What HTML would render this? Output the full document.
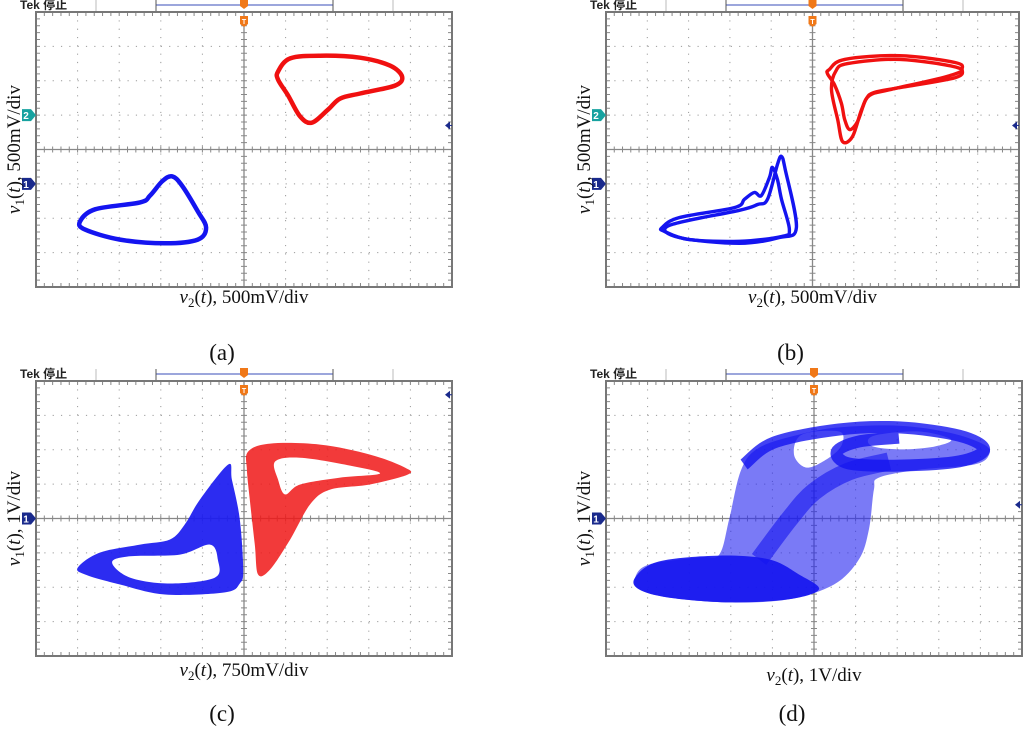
<!DOCTYPE html>
<html><head><meta charset="utf-8"><style>
html,body{margin:0;padding:0;background:#fff;}
svg{display:block;}
text{font-family:"Liberation Serif","Noto Serif CJK SC",serif;}
text.sans{font-family:"Liberation Sans","Noto Sans CJK SC",sans-serif;}
</style></head><body>
<svg id="fig" width="1024" height="735" viewBox="0 0 1024 735" xmlns="http://www.w3.org/2000/svg"></svg>
<script>
// ---- data (units: screen divisions, x: -5..5, y: -4..4) ----
const aRedX=[0.82,1.11,1.83,2.79,3.51,3.80,3.63,2.79,2.31,2.02,1.63,1.35,1.06,0.82];
const aRedY=[2.27,2.65,2.73,2.67,2.44,2.12,1.86,1.63,1.48,1.16,0.78,0.96,1.57,2.03];
const aBlueX=[-3.94,-3.58,-2.50,-2.26,-1.97,-1.73,-1.49,-1.11,-0.91,-1.11,-1.90,-2.98,-3.82];
const aBlueY=[-2.09,-1.74,-1.54,-1.34,-0.93,-0.78,-1.05,-1.80,-2.27,-2.62,-2.73,-2.62,-2.33];

const bRed1X=[0.41,0.78,2.11,3.45,3.62,3.45,2.11,1.50,1.29,1.09,0.90,0.78,0.70,0.53,0.36];
const bRed1Y=[2.33,2.62,2.73,2.53,2.33,2.09,1.80,1.66,1.45,0.81,0.58,0.87,1.34,1.89,2.21];
const bRed2X=[0.56,0.85,2.11,3.52,3.33,1.87,1.38,1.19,0.97,0.73,0.61,0.46];
const bRed2Y=[2.27,2.50,2.62,2.38,2.15,1.74,1.57,1.16,0.38,0.23,0.87,1.74];
const bBlue1X=[-3.64,-3.23,-1.89,-1.65,-1.41,-1.24,-1.04,-0.97,-0.85,-0.75,-0.56,-0.75,-1.77,-2.99,-3.59];
const bBlue1Y=[-2.27,-1.98,-1.69,-1.45,-1.25,-1.34,-0.81,-0.52,-0.87,-1.45,-2.33,-2.53,-2.67,-2.62,-2.38];
const bBlue2X=[-3.47,-1.77,-1.33,-1.09,-0.85,-0.75,-0.66,-0.39,-0.80,-1.77,-3.23];
const bBlue2Y=[-2.21,-1.77,-1.60,-1.45,-0.44,-0.20,-0.58,-2.27,-2.56,-2.73,-2.56];

const cBlueOutX=[-3.99,-3.46,-2.50,-1.78,-1.42,-1.06,-0.38,-0.29,-0.10,-0.02,-0.10,-0.46,-1.90,-2.98,-3.82];
const cBlueOutY=[-1.42,-0.99,-0.76,-0.61,-0.17,0.55,1.57,1.13,-0.03,-1.48,-1.89,-2.15,-2.21,-1.92,-1.63];
const cBlueInX=[-3.17,-2.74,-1.54,-0.82,-0.63,-0.70,-1.78,-2.74];
const cBlueInY=[-1.28,-1.10,-1.05,-0.76,-1.19,-1.72,-1.89,-1.72];
const cRedOutX=[0.10,0.63,1.83,3.03,3.87,3.94,3.03,2.07,1.59,1.11,0.63,0.34,0.26,0.14,0.07];
const cRedOutY=[1.95,2.18,2.15,1.86,1.48,1.28,0.99,0.84,0.41,-0.61,-1.48,-1.63,-0.76,0.55,1.42];
const cRedInX=[0.75,1.35,2.55,3.27,2.31,1.35,0.99,0.82];
const cRedInY=[1.66,1.77,1.54,1.31,1.19,0.99,0.70,1.13];

const dOutX=[-4.30,-3.97,-2.76,-2.28,-2.04,-1.75,-1.32,-0.36,0.60,2.04,3.25,4.09,4.21,3.85,2.52,1.56,1.44,1.32,1.08,0.48,-0.60,-2.04,-3.49,-4.21];
const dOutY=[-1.72,-1.34,-1.13,-1.05,-0.03,1.42,2.06,2.44,2.65,2.70,2.50,2.15,1.86,1.57,1.42,1.19,0.84,-0.32,-1.19,-1.92,-2.35,-2.44,-2.30,-2.06];
const dGapX=[-0.29,0.60,0.67,0.36,-0.17,-0.48];
const dGapY=[2.44,2.53,2.15,1.77,1.48,1.86];
const dHoleX=[1.44,2.52,3.29,2.88,2.04,1.37];
const dHoleY=[2.41,2.53,2.30,2.09,2.01,2.12];
const dLobeX=[-4.30,-3.73,-2.28,-1.08,-0.36,0.12,-0.60,-2.04,-3.49,-4.21];
const dLobeY=[-1.72,-1.25,-1.08,-1.19,-1.63,-2.06,-2.35,-2.44,-2.30,-2.06];
const dTopX=[-1.68,-0.96,0.60,2.04,3.49,4.09,3.49,2.04,0.84,0.55,1.08,2.04];
const dTopY=[1.57,2.21,2.59,2.65,2.41,2.01,1.66,1.54,1.60,1.95,2.24,2.35];
const dDiagX=[-1.32,-0.60,0,0.84,1.80];
const dDiagY=[-1.19,-0.03,0.78,1.37,1.66];

const NS="http://www.w3.org/2000/svg";
const svg=document.getElementById('fig');
function mk(tag,attrs,parent){const e=document.createElementNS(NS,tag);for(const k in attrs)e.setAttribute(k,attrs[k]);(parent||svg).appendChild(e);return e;}

function smooth(pts,closed){
  const n=pts.length;let d='M'+pts[0][0].toFixed(1)+','+pts[0][1].toFixed(1);
  const cnt=closed?n:n-1;
  for(let i=0;i<cnt;i++){
    const p0=pts[(i-1+n)%n],p1=pts[i],p2=pts[(i+1)%n],p3=pts[(i+2)%n];
    const q0=(!closed&&i===0)?p1:p0, q3=(!closed&&i+2>=n)?p2:p3;
    const c1=[p1[0]+(p2[0]-q0[0])/6,p1[1]+(p2[1]-q0[1])/6];
    const c2=[p2[0]-(q3[0]-p1[0])/6,p2[1]-(q3[1]-p1[1])/6];
    d+='C'+c1[0].toFixed(1)+','+c1[1].toFixed(1)+' '+c2[0].toFixed(1)+','+c2[1].toFixed(1)+' '+p2[0].toFixed(1)+','+p2[1].toFixed(1);
  }
  return d+(closed?'Z':'');
}

function makePanel(id,L,R,T,B,opt){
  const g=mk('g',{});
  
  
  const dx=(R-L)/10,dy=(B-T)/8,cx=(L+R)/2,cy=(T+B)/2;
  const sx=x=>cx+x*dx, sy=y=>cy-y*dy;
  const hy=T-7;
  const tek=mk('text',{x:L-16,y:hy+4,'font-size':12,'font-weight':'bold',fill:'#222',class:'sans'},g);
  tek.textContent='Tek 停止';
  
  
  [L+60,L+357].forEach(x=>mk('line',{x1:x,y1:T-12,x2:x,y2:T-1,stroke:'#bbb','stroke-width':1},g));
  mk('line',{x1:L+120,y1:hy,x2:L+297,y2:hy,stroke:'#6070c8','stroke-width':1.2},g);
  mk('line',{x1:L+120,y1:T-12,x2:L+120,y2:T-1,stroke:'#555','stroke-width':1},g);
  mk('line',{x1:L+297,y1:T-12,x2:L+297,y2:T-1,stroke:'#555','stroke-width':1},g);
  for(let i=1;i<10;i++){if(i!==5)mk('line',{x1:L+i*dx,y1:T,x2:L+i*dx,y2:B,stroke:'#9a9a9a','stroke-width':1,'stroke-dasharray':'1.2 7.12'},g);}
  for(let j=1;j<8;j++){if(j!==4)mk('line',{x1:L,y1:T+j*dy,x2:R,y2:T+j*dy,stroke:'#9a9a9a','stroke-width':1,'stroke-dasharray':'1.2 7.12'},g);}
  mk('line',{x1:cx,y1:T,x2:cx,y2:B,stroke:'#888','stroke-width':1.3},g);
  mk('line',{x1:L,y1:cy,x2:R,y2:cy,stroke:'#888','stroke-width':1.3},g);
  for(let k=0;k<=50;k++){const x=L+k*dx/5;
    mk('line',{x1:x,y1:cy-3,x2:x,y2:cy+3,stroke:'#888','stroke-width':1},g);
    mk('line',{x1:x,y1:T,x2:x,y2:T+4,stroke:'#888','stroke-width':1},g);
    mk('line',{x1:x,y1:B-4,x2:x,y2:B,stroke:'#888','stroke-width':1},g);}
  for(let k=0;k<=40;k++){const y=T+k*dy/5;
    mk('line',{x1:cx-3,y1:y,x2:cx+3,y2:y,stroke:'#888','stroke-width':1},g);
    mk('line',{x1:L,y1:y,x2:L+4,y2:y,stroke:'#888','stroke-width':1},g);
    mk('line',{x1:R-4,y1:y,x2:R,y2:y,stroke:'#888','stroke-width':1},g);}
  mk('rect',{x:L,y:T,width:R-L,height:B-T,fill:'none',stroke:'#777','stroke-width':2},g);
  mk('path',{d:`M${cx-4},${T-13}h8v7l-4,3l-4,-3z`,fill:'#f07818'},g);
  mk('path',{d:`M${cx-4},${T+4}h8v8l-4,3l-4,-3z`,fill:'#f07818'},g);
  mk('text',{x:cx,y:T+12,'font-size':7,'font-weight':'bold','text-anchor':'middle',fill:'#fff',class:'sans'},g).textContent='T';
  opt.markers.forEach(m=>{
    const y=sy(m.y);
    mk('path',{d:`M${L-14},${y-6}h9l5,6l-5,6h-9z`,fill:m.c},g);
    mk('text',{x:L-10,y:y+4,'font-size':10,'font-weight':'bold','text-anchor':'middle',fill:'#fff',class:'sans'},g).textContent=m.t;
  });
  const ay=sy(opt.arrowY);
  mk('path',{d:`M${R-7},${ay}l5,-4v8z`,fill:'#1a2a8c'},g);
  mk('line',{x1:R-4,y1:ay,x2:R,y2:ay,stroke:'#1a2a8c','stroke-width':1},g);
  const xl=mk('text',{x:cx,y:opt.xlY,'font-size':19,'text-anchor':'middle',fill:'#111'},g);
  xl.innerHTML='<tspan font-style="italic">v</tspan><tspan font-size="13" dy="4">2</tspan><tspan dy="-4">(</tspan><tspan font-style="italic">t</tspan><tspan>), '+opt.xu+'</tspan>';
  
  
  const yl=mk('text',{x:0,y:0,'font-size':19,'text-anchor':'middle',fill:'#111',transform:`translate(${L-16},${cy}) rotate(-90)`},g);
  yl.innerHTML='<tspan font-style="italic">v</tspan><tspan font-size="13" dy="4">1</tspan><tspan dy="-4">(</tspan><tspan font-style="italic">t</tspan><tspan>), '+opt.yu+'</tspan>';
  
  
  const cap=mk('text',{x:cx-22,y:opt.capY,'font-size':23,'text-anchor':'middle',fill:'#111'},g);
  cap.textContent=opt.cap;
  
  
  return {g,sx,sy};
}
function pts(P,xs,ys){return xs.map((x,i)=>[P.sx(x),P.sy(ys[i])]);}

let P=makePanel('a',36,452,12,287,{markers:[{y:1,c:'#17a2a0',t:'2'},{y:-1,c:'#1a2a8c',t:'1'}],arrowY:0.7,xlY:303,yu:'500mV/div',xu:'500mV/div',capY:360,cap:'(a)'});
let e=mk('path',{d:smooth(pts(P,aRedX,aRedY),true),fill:'none',stroke:'#f01010','stroke-width':4.5},P.g);


e=mk('path',{d:smooth(pts(P,aBlueX,aBlueY),true),fill:'none',stroke:'#1414f0','stroke-width':4.5},P.g);



P=makePanel('b',606,1019,12,287,{markers:[{y:1,c:'#17a2a0',t:'2'},{y:-1,c:'#1a2a8c',t:'1'}],arrowY:0.7,xlY:303,yu:'500mV/div',xu:'500mV/div',capY:360,cap:'(b)'});
[[bRed1X,bRed1Y,'#f01010','red-loop-1'],[bRed2X,bRed2Y,'#f01010','red-loop-2'],[bBlue1X,bBlue1Y,'#1414f0','blue-loop-1'],[bBlue2X,bBlue2Y,'#1414f0','blue-loop-2']].forEach(s=>{
  const el=mk('path',{d:smooth(pts(P,s[0],s[1]),true),fill:'none',stroke:s[2],'stroke-width':3.4},P.g);
  
  
});

P=makePanel('c',36,452,381,656,{markers:[{y:0,c:'#1a2a8c',t:'1'}],arrowY:3.6,xlY:676,yu:'1V/div',xu:'750mV/div',capY:721,cap:'(c)'});
e=mk('path',{d:smooth(pts(P,cBlueOutX,cBlueOutY),true)+smooth(pts(P,cBlueInX,cBlueInY),true),fill:'#1a1af0','fill-rule':'evenodd','fill-opacity':0.92},P.g);


e=mk('path',{d:smooth(pts(P,cRedOutX,cRedOutY),true)+smooth(pts(P,cRedInX,cRedInY),true),fill:'#f01818','fill-rule':'evenodd','fill-opacity':0.85},P.g);



P=makePanel('d',606,1022,381,656,{markers:[{y:0,c:'#1a2a8c',t:'1'}],arrowY:0.4,xlY:681,yu:'1V/div',xu:'1V/div',capY:721,cap:'(d)'});
e=mk('path',{d:smooth(pts(P,dOutX,dOutY),true)+smooth(pts(P,dGapX,dGapY),true)+smooth(pts(P,dHoleX,dHoleY),true),fill:'#2828f0','fill-rule':'evenodd','fill-opacity':0.62},P.g);


e=mk('path',{d:smooth(pts(P,dLobeX,dLobeY),true),fill:'#1414f0','fill-opacity':0.9},P.g);


e=mk('path',{d:smooth(pts(P,dTopX,dTopY),false),fill:'none',stroke:'#1414f0','stroke-width':12,'stroke-opacity':0.8},P.g);


e=mk('path',{d:smooth(pts(P,dDiagX,dDiagY),false),fill:'none',stroke:'#1414f0','stroke-width':18,'stroke-opacity':0.6},P.g);


</script>
</body></html>
